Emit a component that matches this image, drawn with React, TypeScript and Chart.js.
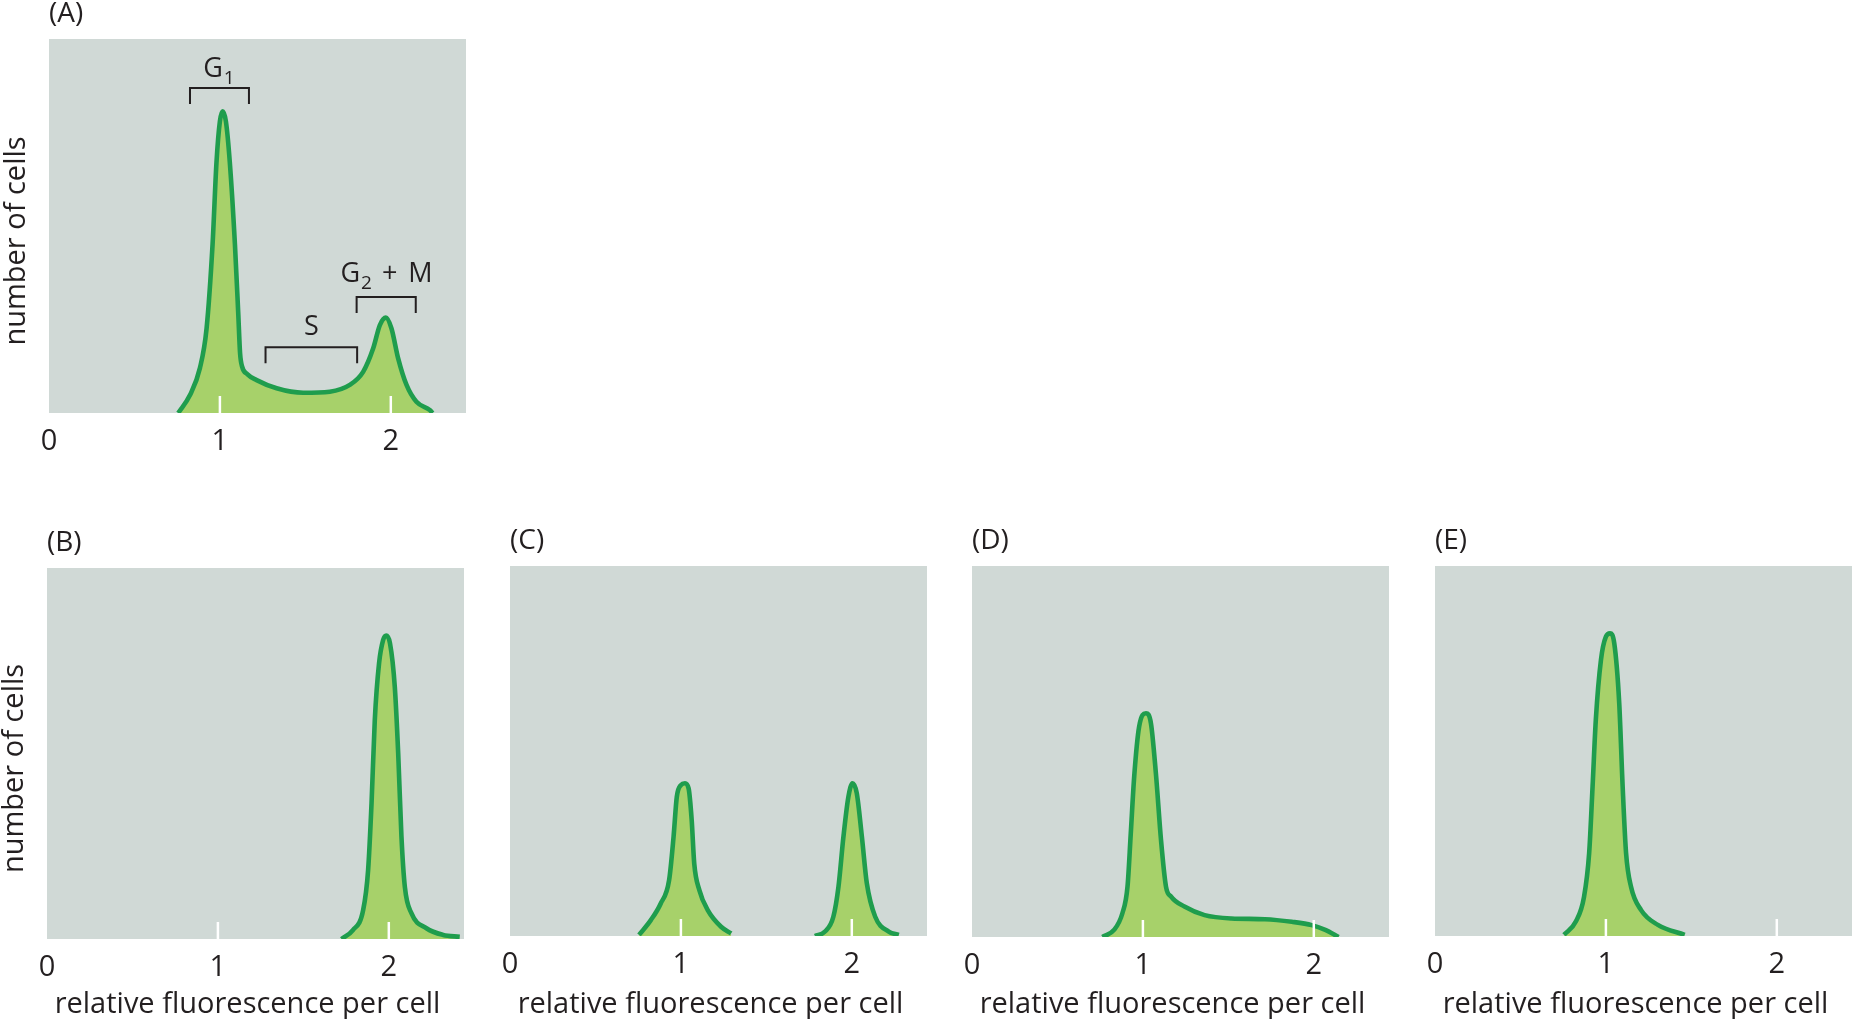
import React, { useEffect, useRef } from 'react';
import { Chart, registerables } from 'chart.js';

Chart.register(...registerables);

// ---------- styling constants ----------
const FONT = "'Open Sans', 'Noto Sans', sans-serif";
const WEIGHT = '500';
const INK = '#231f20';
const PLOT_BG = '#d0d9d6';
const FILL_GREEN = '#a7d16a';
const LINE_GREEN = '#1f9d4d';

// ---------- axis data ----------
const X_MIN = 0;
const X_MAX = 2.44;
const xTickValues = [0, 1, 2];
const xTickLabels = ['0', '1', '2'];
const Y_MAX = 100;

const panelLetters = ['(A)', '(B)', '(C)', '(D)', '(E)'];
const yAxisTitle = 'number of cells';
const xAxisTitle = 'relative fluorescence per cell';

// ---------- series (relative fluorescence, number of cells) ----------
const aX = [0.756, 0.825, 0.883, 0.922, 0.957, 0.98, 1.0, 1.016, 1.035, 1.058, 1.088, 1.107, 1.118, 1.13, 1.16, 1.215, 1.332, 1.487, 1.643, 1.76, 1.838, 1.897, 1.936, 1.971, 2.004, 2.043, 2.092, 2.15, 2.228, 2.245];
const aY = [0, 4.8, 12, 22.6, 45, 67, 78, 80.7, 78, 67, 45, 27, 16, 12.4, 10.4, 8.8, 6.6, 5.4, 5.7, 7.5, 11, 17.3, 23.5, 25.5, 22.6, 14.6, 7.5, 3, 0.8, 0];

const bX = [1.723, 1.79, 1.85, 1.879, 1.899, 1.918, 1.943, 1.967, 1.985, 2.007, 2.035, 2.055, 2.074, 2.094, 2.133, 2.22, 2.318, 2.415];
const bY = [0, 2.4, 7.8, 18.6, 36.6, 59, 74.3, 80.6, 81.8, 79.7, 68, 50, 27.6, 14, 6.9, 2.9, 1.1, 0.6];

const c1X = [0.755, 0.824, 0.882, 0.931, 0.957, 0.976, 1.0, 1.024, 1.045, 1.063, 1.078, 1.108, 1.157, 1.235, 1.294];
const c1Y = [0.3, 4.3, 8.8, 15.1, 26.8, 37.6, 40.8, 41.3, 39.9, 31.4, 19.6, 12.4, 7, 2.5, 0.7];
const c2X = [1.784, 1.843, 1.892, 1.922, 1.951, 1.98, 2.004, 2.029, 2.059, 2.088, 2.137, 2.216, 2.275];
const c2Y = [0, 1.2, 5.2, 13.3, 26.8, 37.6, 41.3, 38.6, 26.8, 14.2, 5.2, 1.2, 0.3];

const dX = [0.763, 0.831, 0.88, 0.91, 0.929, 0.949, 0.978, 1.018, 1.047, 1.076, 1.106, 1.135, 1.165, 1.243, 1.361, 1.518, 1.714, 1.871, 1.988, 2.067, 2.145];
const dY = [0, 1.9, 6.4, 13.6, 27.9, 43.2, 56.7, 60.3, 57.6, 44.1, 26.1, 13.6, 10.9, 8.2, 5.9, 5, 4.8, 4.1, 3.2, 1.9, 0];

const eX = [0.755, 0.824, 0.872, 0.902, 0.922, 0.941, 0.971, 1.0, 1.024, 1.049, 1.078, 1.098, 1.118, 1.147, 1.206, 1.304, 1.461];
const eY = [0.3, 3.9, 10.6, 22.4, 40.4, 58.4, 74.6, 80.9, 81.8, 79.1, 62.9, 40.4, 22.4, 13.3, 7, 3, 0.3];

// ---------- phase brackets in panel A (data units) ----------
const bracketMain = ['G', 'S', 'G'];
const bracketSub = ['1', '', '2'];
const bracketRest = ['', '', ' + M'];
const bracketStart = [0.825, 1.267, 1.8];
const bracketEnd = [1.17, 1.803, 2.146];
const bracketLevel = [86.9, 17.6, 31];
const bracketGap = [11, 12, 15];

type Series = { x: number[]; y: number[] };

type PanelSpec = {
  letter: string;
  series: Series[];
  plotLeft: number;
  plotTop: number;
  plotW: number;
  plotH: number;
  bottomH: number;
  yTitle?: string;
  xTitle?: string;
  brackets?: boolean;
};

const LEFT_W = 47;
const TOP_H = 39;

const bgPlugin = {
  id: 'plotBg',
  beforeDatasetsDraw(chart: any) {
    const { ctx, chartArea: a } = chart;
    ctx.save();
    ctx.fillStyle = PLOT_BG;
    ctx.fillRect(a.left, a.top, a.right - a.left, a.bottom - a.top);
    ctx.restore();
  },
};

const tickMarkPlugin = {
  id: 'whiteTicks',
  afterDatasetsDraw(chart: any) {
    const { ctx, chartArea: a } = chart;
    const xs = chart.scales.x;
    ctx.save();
    ctx.strokeStyle = '#ffffff';
    ctx.lineWidth = 2.5;
    xs.ticks.forEach((t: any) => {
      if (t.value === 0) return;
      const px = xs.getPixelForValue(t.value);
      ctx.beginPath();
      ctx.moveTo(px, a.bottom);
      ctx.lineTo(px, a.bottom - 17);
      ctx.stroke();
    });
    ctx.restore();
  },
};

function makeAxisTitlePlugin(yText?: string, xText?: string) {
  return {
    id: 'axisTitleText',
    afterDraw(chart: any) {
      const { ctx, chartArea: a } = chart;
      ctx.save();
      ctx.fillStyle = INK;
      ctx.textAlign = 'center';
      ctx.textBaseline = 'middle';
      ctx.font = `${WEIGHT} 29px ${FONT}`;
      if (xText) {
        ctx.fillText(xText, (a.left + a.right) / 2 - 8, chart.height - 14);
      }
      if (yText) {
        ctx.translate(a.left - 32, (a.top + a.bottom) / 2 + 15);
        ctx.rotate(-Math.PI / 2);
        ctx.fillText(yText, 0, 0);
      }
      ctx.restore();
    },
  };
}

function makeBracketPlugin(enabled?: boolean) {
  return {
    id: 'phaseBrackets',
    afterDatasetsDraw(chart: any) {
      if (!enabled) return;
      const { ctx } = chart;
      const xs = chart.scales.x;
      const ys = chart.scales.y;
      ctx.save();
      bracketStart.forEach((s, i) => {
        const x0 = xs.getPixelForValue(s);
        const x1 = xs.getPixelForValue(bracketEnd[i]);
        const y = ys.getPixelForValue(bracketLevel[i]);
        ctx.strokeStyle = INK;
        ctx.lineWidth = 2;
        ctx.lineJoin = 'miter';
        ctx.beginPath();
        ctx.moveTo(x0, y + 16);
        ctx.lineTo(x0, y);
        ctx.lineTo(x1, y);
        ctx.lineTo(x1, y + 16);
        ctx.stroke();

        const mainFont = `${WEIGHT} 27px ${FONT}`;
        const subFont = `${WEIGHT} 19px ${FONT}`;
        ctx.font = mainFont;
        const wMain = ctx.measureText(bracketMain[i]).width;
        const wRest = ctx.measureText(bracketRest[i]).width * 1.1;
        ctx.font = subFont;
        const wSub = ctx.measureText(bracketSub[i]).width + (bracketSub[i] ? 2 : 0);
        const total = wMain + wSub + wRest;
        const startX = (x0 + x1) / 2 - total / 2;
        const base = y - bracketGap[i];
        ctx.fillStyle = INK;
        ctx.textAlign = 'left';
        ctx.textBaseline = 'alphabetic';
        ctx.font = mainFont;
        ctx.fillText(bracketMain[i], startX, base);
        if (bracketSub[i]) {
          ctx.font = subFont;
          ctx.fillText(bracketSub[i], startX + wMain + 1, base + 7);
        }
        if (bracketRest[i]) {
          ctx.font = mainFont;
          (ctx as any).letterSpacing = '2px';
          ctx.fillText(bracketRest[i], startX + wMain + wSub, base);
          (ctx as any).letterSpacing = '0px';
        }
      });
      ctx.restore();
    },
  };
}

function Panel({ spec }: { spec: PanelSpec }) {
  const ref = useRef<HTMLCanvasElement>(null);
  const width = LEFT_W + spec.plotW;
  const height = TOP_H + spec.plotH + spec.bottomH;

  useEffect(() => {
    if (!ref.current) return;
    const datasets = spec.series.map((s) => ({
      data: s.x.map((x, i) => ({ x, y: s.y[i] })),
      borderColor: LINE_GREEN,
      borderWidth: 4.6,
      backgroundColor: FILL_GREEN,
      fill: 'origin',
      pointRadius: 0,
      cubicInterpolationMode: 'monotone' as const,
    }));
    const chart = new Chart(ref.current, {
      type: 'line',
      data: { datasets },
      options: {
        responsive: false,
        animation: false,
        devicePixelRatio: 1,
        layout: { padding: 0 },
        plugins: {
          legend: { display: false },
          tooltip: { enabled: false },
          title: {
            display: true,
            text: spec.letter,
            align: 'start',
            fullSize: false,
            color: INK,
            font: { family: FONT, size: 28, lineHeight: 1, weight: WEIGHT },
            padding: { top: 0, bottom: 11 },
          },
        },
        scales: {
          x: {
            type: 'linear',
            min: X_MIN,
            max: X_MAX,
            grid: { display: false },
            border: { display: false },
            ticks: {
              stepSize: 1,
              includeBounds: false,
              autoSkip: false,
              maxRotation: 0,
              color: INK,
              padding: 3,
              font: { family: FONT, size: 29, lineHeight: 1.2, weight: WEIGHT },
              callback: (v: any) => {
                const idx = xTickValues.indexOf(Number(v));
                return idx >= 0 ? xTickLabels[idx] : '';
              },
            },
            afterFit: (s: any) => {
              s.height = spec.bottomH;
            },
          },
          y: {
            type: 'linear',
            min: 0,
            max: Y_MAX,
            grid: { display: false },
            border: { display: false },
            ticks: { display: false },
            afterFit: (s: any) => {
              s.width = LEFT_W;
            },
          },
        },
      } as any,
      plugins: [bgPlugin, tickMarkPlugin, makeAxisTitlePlugin(spec.yTitle, spec.xTitle), makeBracketPlugin(spec.brackets)],
    });
    return () => chart.destroy();
  }, []);

  return (
    <canvas
      ref={ref}
      width={width}
      height={height}
      style={{
        position: 'absolute',
        left: spec.plotLeft - LEFT_W,
        top: spec.plotTop - TOP_H,
        width,
        height,
      }}
    />
  );
}

const panels: PanelSpec[] = [
  { letter: panelLetters[0], series: [{ x: aX, y: aY }], plotLeft: 49, plotTop: 39, plotW: 417, plotH: 374, bottomH: 60, yTitle: yAxisTitle, brackets: true },
  { letter: panelLetters[1], series: [{ x: bX, y: bY }], plotLeft: 47, plotTop: 568, plotW: 417, plotH: 371, bottomH: 80, yTitle: yAxisTitle, xTitle: xAxisTitle },
  { letter: panelLetters[2], series: [{ x: c1X, y: c1Y }, { x: c2X, y: c2Y }], plotLeft: 510, plotTop: 566, plotW: 417, plotH: 370, bottomH: 83, xTitle: xAxisTitle },
  { letter: panelLetters[3], series: [{ x: dX, y: dY }], plotLeft: 972, plotTop: 566, plotW: 417, plotH: 371, bottomH: 82, xTitle: xAxisTitle },
  { letter: panelLetters[4], series: [{ x: eX, y: eY }], plotLeft: 1435, plotTop: 566, plotW: 417, plotH: 370, bottomH: 83, xTitle: xAxisTitle },
];

export default function App() {
  return (
    <div
      style={{
        position: 'absolute',
        left: 0,
        top: 0,
        width: 1852,
        height: 1019,
        background: '#ffffff',
        overflow: 'hidden',
      }}
    >
      {panels.map((p) => (
        <Panel key={p.letter} spec={p} />
      ))}
    </div>
  );
}
